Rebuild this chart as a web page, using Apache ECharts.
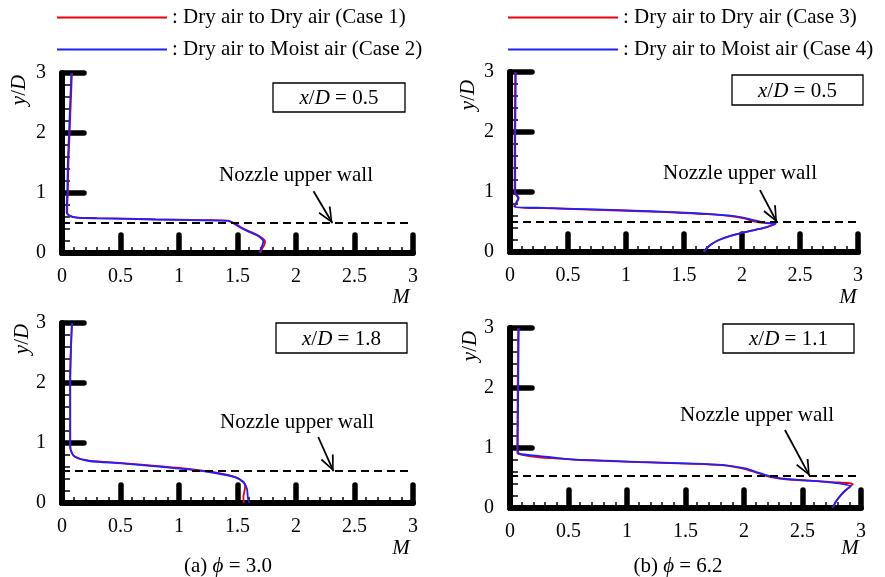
<!DOCTYPE html>
<html>
<head>
<meta charset="utf-8">
<script src="https://cdn.jsdelivr.net/npm/echarts@6/dist/echarts.min.js"></script>
<style>html,body{margin:0;padding:0;background:#fff;}#c{width:885px;height:577px;}</style>
</head>
<body>
<div id="c"></div>
<script>
// ---- data: [M, y/D] profiles ----
const xTicks = [0, 0.5, 1, 1.5, 2, 2.5, 3];
const yTicks = [0, 1, 2, 3];
const nameCase1 = 'Dry air to Dry air (Case 1)';
const nameCase2 = 'Dry air to Moist air (Case 2)';
const nameCase3 = 'Dry air to Dry air (Case 3)';
const nameCase4 = 'Dry air to Moist air (Case 4)';
const panelLabels = ['0.5', '0.5', '1.8', '1.1'];
const wallY = [0.5, 0.5, 0.53, 0.54];

const case1_x05 = [[0.085,3],[0.075,2.5],[0.065,2],[0.055,1.5],[0.05,1],[0.045,0.8],[0.045,0.68],[0.06,0.63],[0.12,0.595],[0.3,0.582],[0.8,0.562],[1.2,0.548],[1.42,0.54],[1.47,0.5],[1.53,0.43],[1.6,0.36],[1.67,0.3],[1.71,0.25],[1.735,0.2],[1.73,0.14],[1.71,0.07],[1.695,0]];
const case2_x05 = [[0.08,3],[0.07,2.5],[0.06,2],[0.05,1.5],[0.045,1],[0.04,0.8],[0.04,0.68],[0.055,0.63],[0.12,0.59],[0.3,0.578],[0.8,0.558],[1.2,0.545],[1.42,0.535],[1.46,0.5],[1.52,0.43],[1.59,0.36],[1.66,0.3],[1.7,0.25],[1.72,0.2],[1.715,0.14],[1.7,0.07],[1.685,0]];
const case3_x05 = [[0.045,3],[0.043,2.5],[0.04,2],[0.04,1.5],[0.04,1.05],[0.045,0.97],[0.07,0.9],[0.035,0.76],[0.3,0.73],[0.8,0.7],[1.2,0.675],[1.5,0.65],[1.7,0.63],[1.9,0.6],[2.02,0.56],[2.1,0.51],[2.2,0.48],[2.29,0.47],[2.22,0.42],[2.14,0.38],[2.0,0.32],[1.9,0.27],[1.8,0.2],[1.73,0.12],[1.69,0.05],[1.67,0]];
const case4_x05 = [[0.05,3],[0.048,2.5],[0.045,2],[0.045,1.5],[0.045,1.05],[0.05,0.97],[0.075,0.9],[0.04,0.76],[0.3,0.735],[0.8,0.705],[1.2,0.68],[1.5,0.655],[1.7,0.635],[1.9,0.605],[2.02,0.57],[2.1,0.53],[2.2,0.49],[2.29,0.47],[2.22,0.42],[2.14,0.38],[2.0,0.32],[1.9,0.27],[1.8,0.2],[1.73,0.12],[1.69,0.05],[1.67,0]];
const case1_x18 = [[0.085,3],[0.075,2.5],[0.07,2],[0.07,1.5],[0.07,1],[0.075,0.88],[0.11,0.775],[0.23,0.705],[0.51,0.665],[0.8,0.62],[1.08,0.57],[1.31,0.51],[1.48,0.43],[1.55,0.35],[1.565,0.28],[1.56,0.2],[1.55,0.1],[1.555,0]];
const case2_x18 = [[0.085,3],[0.075,2.5],[0.07,2],[0.07,1.5],[0.07,1],[0.075,0.88],[0.11,0.77],[0.23,0.7],[0.51,0.66],[0.8,0.61],[1.08,0.56],[1.31,0.5],[1.48,0.43],[1.55,0.35],[1.58,0.24],[1.59,0.07],[1.6,0]];
const case3_x11 = [[0.07,3],[0.068,2.5],[0.066,2],[0.064,1.5],[0.062,1],[0.064,0.91],[0.23,0.85],[0.36,0.83],[0.6,0.8],[1.1,0.765],[1.5,0.74],[1.81,0.715],[2.01,0.65],[2.12,0.58],[2.24,0.51],[2.38,0.475],[2.66,0.445],[2.81,0.425],[2.93,0.4],[2.89,0.33],[2.83,0.22],[2.79,0.12],[2.77,0.05],[2.76,0]];
const case4_x11 = [[0.075,3],[0.072,2.5],[0.07,2],[0.068,1.5],[0.066,1],[0.07,0.93],[0.085,0.9],[0.24,0.87],[0.53,0.81],[1.1,0.77],[1.5,0.745],[1.81,0.72],[2.01,0.66],[2.12,0.59],[2.24,0.52],[2.38,0.48],[2.66,0.44],[2.81,0.41],[2.91,0.36],[2.87,0.3],[2.83,0.22],[2.79,0.12],[2.77,0.05],[2.76,0]];
// arrow start/end in data coords per panel
const arrows = [[[2.15,1.03],[2.31,0.5]],[[2.155,1.03],[2.30,0.5]],[[2.19,1.1],[2.32,0.53]],[[2.35,1.3],[2.56,0.54]]];

const FONT = 'Liberation Serif';
const RED = '#e8000b';
const BLUE = '#1f1fff';

const grids = [
  {left: 62, top: 73, width: 351, height: 180},
  {left: 510, top: 72, width: 348, height: 180},
  {left: 62, top: 323, width: 351, height: 180},
  {left: 510, top: 328, width: 351, height: 180}
];

const xAxes = grids.map((g, i) => ({
  type: 'value', gridIndex: i, min: xTicks[0], max: xTicks[xTicks.length-1], interval: xTicks[1]-xTicks[0],
  axisLine: {show: true, onZero: false, lineStyle: {color: '#000', width: 6, cap: 'round'}},
  axisTick: {show: true, inside: true, length: 18, lineStyle: {color: '#000', width: 5.5, cap: 'round'}},
  minorTick: {show: true, splitNumber: 5, length: 6, lineStyle: {color: '#000', width: 1.5}},
  splitLine: {show: false},
  axisLabel: {margin: 14, color: '#000', fontFamily: FONT, fontSize: 20}
}));
const yAxes = grids.map((g, i) => ({
  type: 'value', gridIndex: i, min: yTicks[0], max: yTicks[yTicks.length-1], interval: yTicks[1]-yTicks[0],
  axisLine: {show: true, onZero: false, lineStyle: {color: '#000', width: 6, cap: 'round'}},
  axisTick: {show: true, inside: true, length: 22, lineStyle: {color: '#000', width: 5.5, cap: 'round'}},
  minorTick: {show: true, splitNumber: 5, length: 8, lineStyle: {color: '#000', width: 1.5}},
  splitLine: {show: false},
  axisLabel: {margin: 16, color: '#000', fontFamily: FONT, fontSize: 20}
}));

const chevron = 'path://M0,-14 L0.01,-14 Z M0,0 L-6,14 L-4.6,14.8 L0,3.2 L4.6,14.8 L6,14 Z';

function mk(i) {
  return {
    silent: true, symbol: ['none','none'], label: {show: false},
    data: [
      [{coord: [0, wallY[i]], lineStyle: {color: '#000', width: 2, type: [8,5]}}, {coord: [3, wallY[i]]}],
      [{coord: arrows[i][0], lineStyle: {color: '#000', width: 1.8, type: 'solid'}}, {coord: arrows[i][1], symbol: chevron, symbolSize: [14, 32]}]
    ]
  };
}
function ser(name, data, color, i, withMark) {
  const s = {name, type: 'line', xAxisIndex: i, yAxisIndex: i, data, showSymbol: false, symbol: 'none',
    smooth: 0.25, color, lineStyle: {color, width: 1.8}, z: 3, animation: false};
  if (withMark) s.markLine = mk(i);
  return s;
}

const series = [
  ser(nameCase1, case1_x05, RED, 0, true), ser(nameCase2, case2_x05, BLUE, 0, false),
  ser(nameCase3, case3_x05, RED, 1, true), ser(nameCase4, case4_x05, BLUE, 1, false),
  ser(nameCase1, case1_x18, RED, 2, true), ser(nameCase2, case2_x18, BLUE, 2, false),
  ser(nameCase3, case3_x11, RED, 3, true), ser(nameCase4, case4_x11, BLUE, 3, false)
];

const txt = (x, y, text, extra) => Object.assign({type: 'text', x, y, style: Object.assign({
  text, fill: '#000', fontFamily: FONT, fontSize: 21, align: 'center', verticalAlign: 'middle',
  rich: {i: {fontStyle: 'italic', fontFamily: FONT, fontSize: 21}}
}, extra || {})}, {});

const boxes = [[273,83,132,29],[732,75,131,30],[276,323,131,30],[723,324,131,29]];
const graphics = [];
boxes.forEach((b, i) => {
  graphics.push({type: 'rect', shape: {x: b[0], y: b[1], width: b[2], height: b[3]}, style: {fill: '#fff', stroke: '#000', lineWidth: 1.3}});
  graphics.push(txt(b[0] + b[2]/2, b[1] + b[3]/2 + 1, '{i|x}/{i|D} = ' + panelLabels[i]));
});
[[296,175],[740,173],[297,422],[757,415]].forEach(p => graphics.push(txt(p[0], p[1], 'Nozzle upper wall')));
[[401,297],[848,297],[401,548],[850,548]].forEach(p => graphics.push(txt(p[0], p[1], '{i|M}')));
[[19,90],[468,95],[22,339],[470,346]].forEach(p => graphics.push(Object.assign(txt(p[0], p[1], '{i|y}/{i|D}'), {rotation: Math.PI/2})));
graphics.push(txt(228, 566, '(a) {i|\u03d5} = 3.0'));
graphics.push(txt(678, 566, '(b) {i|\u03d5} = 6.2'));

const legendCommon = {orient: 'vertical', top: 7, padding: 0, itemWidth: 110, itemHeight: 2, itemGap: 11, itemTextGap: 12,
  icon: 'rect', formatter: ': {name}', textStyle: {color: '#000', fontFamily: FONT, fontSize: 21}, selectedMode: false};

const chart = echarts.init(document.getElementById('c'), null, {renderer: 'canvas'});
chart.setOption({
  animation: false,
  backgroundColor: '#fff',
  grid: grids,
  xAxis: xAxes,
  yAxis: yAxes,
  legend: [
    Object.assign({left: 57, data: [nameCase1, nameCase2]}, legendCommon),
    Object.assign({left: 508, data: [nameCase3, nameCase4]}, legendCommon)
  ],
  series,
  graphic: graphics
});
</script>
</body>
</html>
